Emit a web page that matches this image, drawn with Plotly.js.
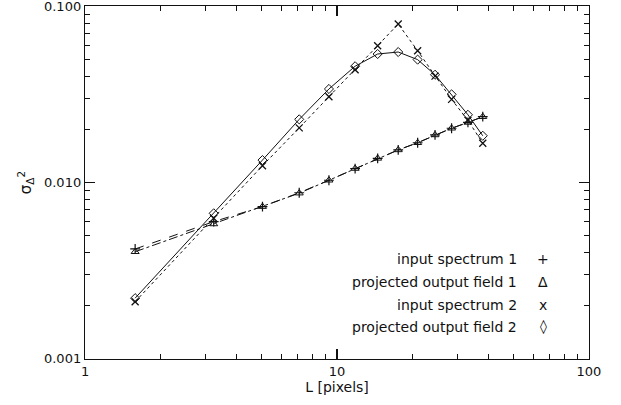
<!DOCTYPE html>
<html>
<head>
<meta charset="utf-8">
<script src="https://cdn.plot.ly/plotly-3.0.1.min.js"></script>
<style>html,body{margin:0;padding:0;background:#fff}#chart{width:621px;height:405px}</style>
</head>
<body>
<div id="chart"></div>
<script>
// Scale L [pixels]
const L = [1.58, 3.24, 5.06, 7.08, 9.29, 11.8, 14.5, 17.5, 20.9, 24.5, 28.5, 33.1, 37.9];
// input spectrum 1 (+)
const input1 = [0.0042, 0.0060, 0.0073, 0.00875, 0.0103, 0.0120, 0.0137, 0.0153, 0.0168, 0.0186, 0.0203, 0.0219, 0.0236];
// projected output field 1 (triangle)
const output1 = [0.00405, 0.00582, 0.0073, 0.0087, 0.0103, 0.0120, 0.0137, 0.0153, 0.0168, 0.0186, 0.0203, 0.0219, 0.0236];
// input spectrum 2 (x)
const input2 = [0.00211, 0.00627, 0.01245, 0.0204, 0.0306, 0.0436, 0.0596, 0.0791, 0.0558, 0.0401, 0.0296, 0.0225, 0.0167];
// projected output field 2 (diamond)
const output2 = [0.00221, 0.00669, 0.0134, 0.0228, 0.0339, 0.0456, 0.0535, 0.0549, 0.0497, 0.0408, 0.0316, 0.0242, 0.0184];

const legendLabels = ['input spectrum 1', 'projected output field 1', 'input spectrum 2', 'projected output field 2'];
const legendSymbols = ['+', 'Δ', 'x', '◊'];

const xMajor = [1, 10, 100];
const xMajorText = ['1', '10', '100'];
const yMajor = [0.001, 0.01, 0.1];
const yMajorText = ['0.001', '0.010', '0.100'];
const xMinor = [2,3,4,5,6,7,8,9,20,30,40,50,60,70,80,90];
const yMinor = [0.002,0.003,0.004,0.005,0.006,0.007,0.008,0.009,0.02,0.03,0.04,0.05,0.06,0.07,0.08,0.09];

const FONT = 'DejaVu Sans, sans-serif';
const INK = '#111';

const traces = [
  {x: L, y: input1, mode: 'lines+markers', line: {color: INK, width: 1, dash: 'dash'},
   marker: {symbol: 'cross-thin', size: 7, line: {color: INK, width: 1.2}}},
  {x: L, y: output1, mode: 'lines+markers', line: {color: INK, width: 1, dash: 'dashdot'},
   marker: {symbol: 'triangle-up-open', size: 7, color: INK, line: {color: INK, width: 1}}},
  {x: L, y: input2, mode: 'lines+markers', line: {color: INK, width: 1, dash: 'dot'},
   marker: {symbol: 'x-thin', size: 7, line: {color: INK, width: 1.3}}},
  {x: L, y: output2, mode: 'lines+markers', line: {color: INK, width: 1},
   marker: {symbol: 'diamond-open', size: 7, color: INK, line: {color: INK, width: 1}}}
];

const rowsY = [0.283, 0.218, 0.153, 0.091];
const annotations = [];
legendLabels.forEach((t, i) => {
  annotations.push({xref: 'paper', yref: 'paper', x: 0.861, y: rowsY[i], xanchor: 'right', yanchor: 'middle',
    text: t, showarrow: false, font: {family: FONT, size: 14, color: INK}});
  annotations.push({xref: 'paper', yref: 'paper', x: 0.909, y: rowsY[i], xanchor: 'center', yanchor: 'middle',
    text: legendSymbols[i], showarrow: false, font: {family: FONT, size: 14, color: INK}});
});

const axisCommon = {
  type: 'log', showgrid: false, zeroline: false, showline: true, linecolor: INK, linewidth: 1.2,
  mirror: 'allticks', ticks: 'inside', ticklen: 10, tickwidth: 1.2, tickcolor: INK,
  tickmode: 'array', tickfont: {family: FONT, size: 13, color: INK}, ticklabeloverflow: 'allow'
};

const layout = {
  width: 621, height: 405,
  margin: {l: 85, r: 32, t: 6, b: 46},
  paper_bgcolor: '#fff', plot_bgcolor: '#fff',
  showlegend: false,
  font: {family: FONT, color: INK},
  xaxis: Object.assign({}, axisCommon, {
    range: [-0.0004, 2.0004], tickvals: xMajor, ticktext: xMajorText,
    minor: {tickmode: 'array', tickvals: xMinor, ticks: 'inside', ticklen: 5, tickwidth: 1, tickcolor: INK},
    title: {text: 'L [pixels]', font: {family: FONT, size: 14, color: INK}, standoff: 3}
  }),
  yaxis: Object.assign({}, axisCommon, {
    range: [-3.0004, -0.9996], tickvals: yMajor, ticktext: yMajorText,
    minor: {tickmode: 'array', tickvals: yMinor, ticks: 'inside', ticklen: 5, tickwidth: 1, tickcolor: INK},
    title: {text: 'σ<sub>Δ</sub><sup>2</sup>', font: {family: FONT, size: 15, color: INK}, standoff: 8}
  }),
  annotations: annotations
};

Plotly.newPlot('chart', traces, layout, {displayModeBar: false, staticPlot: true});
</script>
</body>
</html>
